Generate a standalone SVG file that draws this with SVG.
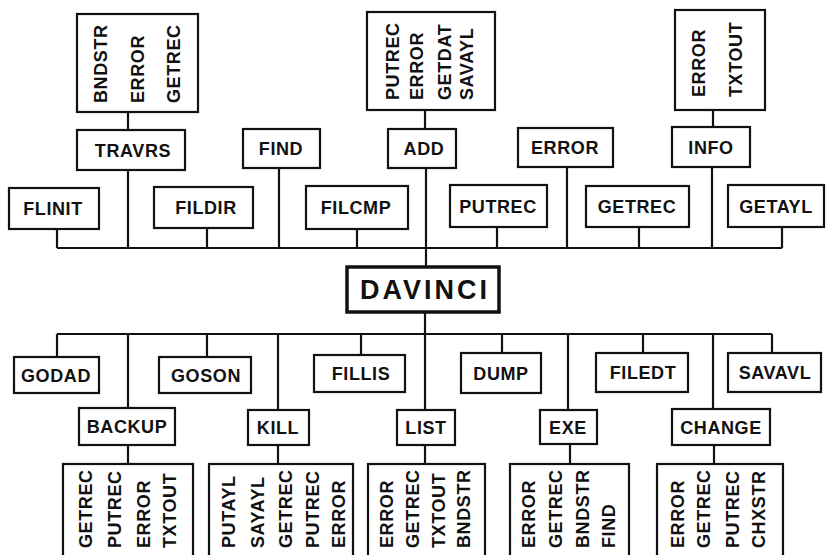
<svg xmlns="http://www.w3.org/2000/svg" width="826" height="555" viewBox="0 0 826 555">
<style>
rect{fill:#fff;stroke:#111;stroke-width:2.2}
.main{stroke-width:3.5}
.c line{stroke:#111;stroke-width:2.2}
text{font-family:"Liberation Sans",Arial,sans-serif;font-weight:bold;font-size:18px;fill:#111;letter-spacing:0.6px}
.h{text-anchor:middle}
.big{font-size:27px;letter-spacing:3px}
</style>
<rect x="0" y="0" width="826" height="555" style="fill:#fff;stroke:none"/>
<g class="c">
<line x1="57" y1="248" x2="782" y2="248"/>
<line x1="57" y1="229" x2="57" y2="248"/>
<line x1="128" y1="170" x2="128" y2="248"/>
<line x1="207" y1="228" x2="207" y2="248"/>
<line x1="279" y1="168" x2="279" y2="248"/>
<line x1="357" y1="229" x2="357" y2="248"/>
<line x1="426" y1="168" x2="426" y2="267"/>
<line x1="497" y1="227" x2="497" y2="248"/>
<line x1="567" y1="167" x2="567" y2="248"/>
<line x1="639" y1="227" x2="639" y2="248"/>
<line x1="712" y1="167" x2="712" y2="248"/>
<line x1="782" y1="227" x2="782" y2="248"/>
<line x1="128" y1="112" x2="128" y2="130"/>
<line x1="425" y1="110" x2="425" y2="129"/>
<line x1="713" y1="110" x2="713" y2="127"/>
<line x1="425" y1="312" x2="425" y2="410"/>
<line x1="57" y1="334" x2="772" y2="334"/>
<line x1="57" y1="334" x2="57" y2="357"/>
<line x1="128" y1="334" x2="128" y2="408"/>
<line x1="207" y1="334" x2="207" y2="357"/>
<line x1="278" y1="334" x2="278" y2="410"/>
<line x1="361" y1="334" x2="361" y2="355"/>
<line x1="502" y1="334" x2="502" y2="353"/>
<line x1="568" y1="334" x2="568" y2="410"/>
<line x1="643" y1="334" x2="643" y2="353"/>
<line x1="713" y1="334" x2="713" y2="409"/>
<line x1="772" y1="334" x2="772" y2="353"/>
<line x1="128" y1="445" x2="128" y2="464"/>
<line x1="278" y1="445" x2="278" y2="464"/>
<line x1="425" y1="445" x2="425" y2="464"/>
<line x1="570" y1="444" x2="570" y2="464"/>
<line x1="714" y1="445" x2="714" y2="464"/>
</g>
<g id="travrs-calls"><rect x="77" y="14" width="121" height="98"/>
<text transform="translate(107,103) rotate(-90)">BNDSTR</text>
<text transform="translate(144,103) rotate(-90)">ERROR</text>
<text transform="translate(180,103) rotate(-90)">GETREC</text></g>
<g id="travrs"><rect x="77" y="130" width="108" height="40"/><text class="h" x="133" y="157">TRAVRS</text></g>
<g id="find"><rect x="243" y="129" width="77" height="39"/><text class="h" x="281" y="155">FIND</text></g>
<g id="flinit"><rect x="9" y="188" width="90" height="41"/><text class="h" x="53" y="215">FLINIT</text></g>
<g id="fildir"><rect x="154" y="187" width="99" height="41"/><text class="h" x="206" y="214">FILDIR</text></g>
<g id="filcmp"><rect x="306" y="186" width="102" height="43"/><text class="h" x="356" y="214">FILCMP</text></g>
<g id="add-calls"><rect x="367" y="12" width="128" height="98"/>
<text transform="translate(399,100) rotate(-90)">PUTREC</text>
<text transform="translate(423,100) rotate(-90)">ERROR</text>
<text transform="translate(451,100) rotate(-90)">GETDAT</text>
<text transform="translate(473,100) rotate(-90)">SAVAYL</text></g>
<g id="add"><rect x="388" y="129" width="68" height="39"/><text class="h" x="424" y="155">ADD</text></g>
<g id="error"><rect x="518" y="128" width="95" height="39"/><text class="h" x="565" y="154">ERROR</text></g>
<g id="info-calls"><rect x="675" y="10" width="90" height="100"/>
<text transform="translate(705,97) rotate(-90)">ERROR</text>
<text transform="translate(742,97) rotate(-90)">TXTOUT</text></g>
<g id="info"><rect x="672" y="127" width="78" height="40"/><text class="h" x="711" y="154">INFO</text></g>
<g id="putrec"><rect x="450" y="185" width="97" height="42"/><text class="h" x="498" y="213">PUTREC</text></g>
<g id="getrec"><rect x="586" y="186" width="103" height="41"/><text class="h" x="637" y="213">GETREC</text></g>
<g id="getayl"><rect x="728" y="185" width="96" height="42"/><text class="h" x="776" y="213">GETAYL</text></g>
<g id="davinci"><rect class="main" x="347" y="267" width="152" height="45"/><text class="h big" x="425" y="299">DAVINCI</text></g>
<g id="godad"><rect x="14" y="357" width="85" height="36"/><text class="h" x="56" y="382">GODAD</text></g>
<g id="goson"><rect x="159" y="357" width="92" height="36"/><text class="h" x="206" y="382">GOSON</text></g>
<g id="fillis"><rect x="314" y="355" width="91" height="37"/><text class="h" x="361" y="380">FILLIS</text></g>
<g id="dump"><rect x="461" y="353" width="80" height="40"/><text class="h" x="501" y="380">DUMP</text></g>
<g id="filedt"><rect x="596" y="353" width="92" height="39"/><text class="h" x="643" y="379">FILEDT</text></g>
<g id="savavl"><rect x="728" y="353" width="93" height="39"/><text class="h" x="775" y="379">SAVAVL</text></g>
<g id="backup"><rect x="79" y="408" width="96" height="37"/><text class="h" x="127" y="433">BACKUP</text></g>
<g id="kill"><rect x="248" y="410" width="61" height="35"/><text class="h" x="278" y="434">KILL</text></g>
<g id="list"><rect x="397" y="410" width="58" height="35"/><text class="h" x="426" y="434">LIST</text></g>
<g id="exe"><rect x="540" y="410" width="57" height="34"/><text class="h" x="568" y="434">EXE</text></g>
<g id="change"><rect x="672" y="409" width="98" height="36"/><text class="h" x="721" y="434">CHANGE</text></g>
<g id="backup-calls"><rect x="63" y="464" width="130" height="110"/>
<text transform="translate(92,548) rotate(-90)">GETREC</text>
<text transform="translate(121,548) rotate(-90)">PUTREC</text>
<text transform="translate(150,548) rotate(-90)">ERROR</text>
<text transform="translate(176,548) rotate(-90)">TXTOUT</text></g>
<g id="kill-calls"><rect x="209" y="464" width="144" height="110"/>
<text transform="translate(235,548) rotate(-90)">PUTAYL</text>
<text transform="translate(264,548) rotate(-90)">SAYAYL</text>
<text transform="translate(292,548) rotate(-90)">GETREC</text>
<text transform="translate(319,548) rotate(-90)">PUTREC</text>
<text transform="translate(345,548) rotate(-90)">ERROR</text></g>
<g id="list-calls"><rect x="368" y="464" width="117" height="110"/>
<text transform="translate(393,548) rotate(-90)">ERROR</text>
<text transform="translate(419,548) rotate(-90)">GETREC</text>
<text transform="translate(445,548) rotate(-90)">TXTOUT</text>
<text transform="translate(470,548) rotate(-90)">BNDSTR</text></g>
<g id="exe-calls"><rect x="510" y="464" width="119" height="110"/>
<text transform="translate(535,548) rotate(-90)">ERROR</text>
<text transform="translate(562,548) rotate(-90)">GETREC</text>
<text transform="translate(589,548) rotate(-90)">BNDSTR</text>
<text transform="translate(615,548) rotate(-90)">FIND</text></g>
<g id="change-calls"><rect x="657" y="464" width="126" height="110"/>
<text transform="translate(684,548) rotate(-90)">ERROR</text>
<text transform="translate(710,548) rotate(-90)">GETREC</text>
<text transform="translate(739,548) rotate(-90)">PUTREC</text>
<text transform="translate(765,548) rotate(-90)">CHXSTR</text></g>
</svg>
